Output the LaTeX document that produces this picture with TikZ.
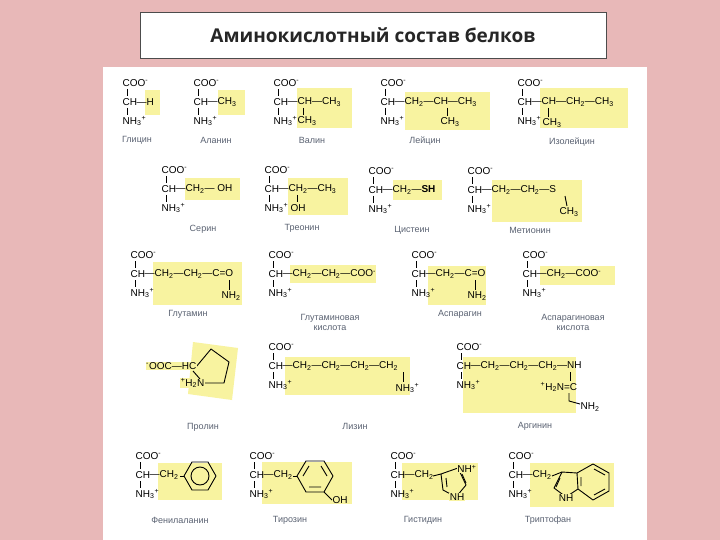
\documentclass[tikz,border=0pt]{standalone}
\usepackage{fontspec}
\setmainfont{Liberation Sans}
\newfontfamily\titlefont{Open Sans}
\definecolor{bgpink}{HTML}{E8B8B8}
\definecolor{hl}{HTML}{F8F3A0}
\definecolor{lbl}{HTML}{5A6272}
\newcommand\sub[1]{\textsubscript{#1}}
\newcommand\sups[1]{\textsuperscript{#1}}
\newcommand\bbone[2]{%
 \node[chem,anchor=west] at (#1,#2-19) {COO\sups{-}};
 \node[chem,anchor=west] at (#1,#2) {CH};
 \node[chem,anchor=west] at (#1,#2+19) {NH\sub{3}\sups{+}};
 \draw[bond] (#1+5,#2-13) -- (#1+5,#2-6);
 \draw[bond] (#1+5,#2+6) -- (#1+5,#2+13);}
\tikzset{
 chem/.style={inner sep=0.5pt,font=\fontsize{10}{11}\selectfont},
 bond/.style={line width=0.9pt,line join=round},
 hlbox/.style={fill=hl,draw=none},
 aname/.style={text=lbl,font=\fontsize{9}{10}\selectfont,align=center,inner sep=0pt}
}
\begin{document}
\begin{tikzpicture}[x=1pt,y=-1pt]
\useasboundingbox (0,0) rectangle (720,540);
\fill[bgpink] (0,0) rectangle (720,540);
\fill[white] (103,67) rectangle (647,540);
\node[draw=black!70,line width=0.8pt,fill=white,minimum width=466pt,minimum height=46pt,font=\titlefont\bfseries\fontsize{19}{22}\selectfont,text=black!85] (title) at (373,35) {Аминокислотный состав белков};
% ---------- yellow boxes ----------
\fill[hlbox] (145,90) rectangle (160,115);
\fill[hlbox] (218,90) rectangle (245,115);
\fill[hlbox] (297,88) rectangle (352,128);
\fill[hlbox] (405,92) rectangle (490,130);
\fill[hlbox] (540,88) rectangle (628,128);
\fill[hlbox] (185,178) rectangle (240,200);
\fill[hlbox] (288,178) rectangle (348,215);
\fill[hlbox] (393,180) rectangle (442,200);
\fill[hlbox] (492,180) rectangle (582,222);
\fill[hlbox] (153,262) rectangle (242,305);
\fill[hlbox] (290,265) rectangle (376,283);
\fill[hlbox] (428,266) rectangle (486,305);
\fill[hlbox] (540,266) rectangle (615,285);
\fill[hlbox] (193,342) -- (238,348) -- (232,400) -- (188,394) -- cycle;
\fill[hlbox] (285,357) rectangle (410,395);
\fill[hlbox] (463,357) rectangle (576,413);
\fill[hlbox] (158,463) rectangle (222,500);
\fill[hlbox] (262,462) rectangle (352,504);
\fill[hlbox] (402,463) rectangle (478,500);
\fill[hlbox] (530,463) rectangle (614,507);
% ---------- row 1 ----------
\bbone{122}{102}
\node[chem,anchor=west] (gly) at (136,102) {—H};
\node[aname] (lgly) at (137,140) {Глицин};
\bbone{193}{102}
\node[chem,anchor=west] (ala) at (207,102) {—CH\sub{3}};
\node[aname] (lala) at (216,140) {Аланин};
\bbone{273}{102}
\node[chem,anchor=west] (val) at (287,102) {—CH—CH\sub{3}};
\node[chem,anchor=west] (valb) at (297,121) {CH\sub{3}};
\draw[bond] (303,108) -- (303,115);
\node[aname] (lval) at (312,140) {Валин};
\bbone{380}{102}
\node[chem,anchor=west] (leu) at (394,102) {—CH\sub{2}—CH—CH\sub{3}};
\node[chem,anchor=west] (leub) at (440,122) {CH\sub{3}};
\draw[bond] (447,108) -- (447,116);
\node[aname] (lleu) at (425,141) {Лейцин};
\bbone{517}{102}
\node[chem,anchor=west] (ile) at (531,102) {—CH—CH\sub{2}—CH\sub{3}};
\node[chem,anchor=west] (ileb) at (542,123) {CH\sub{3}};
\draw[bond] (548,108) -- (548,117);
\node[aname] (lile) at (572,142) {Изолейцин};
% ---------- row 2 ----------
\bbone{161}{189}
\node[chem,anchor=west] (ser) at (175,189) {—CH\sub{2}— OH};
\node[aname] (lser) at (203,229) {Серин};
\bbone{264}{189}
\node[chem,anchor=west] (thr) at (278,189) {—CH\sub{2}—CH\sub{3}};
\node[chem,anchor=west] (thrb) at (290,208) {OH};
\draw[bond] (297,195) -- (297,202);
\node[aname] (lthr) at (302,228) {Треонин};
\bbone{368}{190}
\node[chem,anchor=west] (cys) at (382,190) {—CH\sub{2}—\textbf{SH}};
\node[aname] (lcys) at (412,230) {Цистеин};
\bbone{467}{190}
\node[chem,anchor=west] (met) at (481,190) {—CH\sub{2}—CH\sub{2}—S};
\node[chem,anchor=west] (metb) at (559,212) {CH\sub{3}};
\draw[bond] (565,196) -- (567,206);
\node[aname] (lmet) at (530,230) {Метионин};
% ---------- row 3 ----------
\bbone{130}{274}
\node[chem,anchor=west] (gln) at (144,274) {—CH\sub{2}—CH\sub{2}—C=O};
\node[chem,anchor=west] (glnb) at (221,296) {NH\sub{2}};
\draw[bond] (229,280) -- (229,290);
\node[aname] (lgln) at (188,314) {Глутамин};
\bbone{268}{274}
\node[chem,anchor=west] (glu) at (282,274) {—CH\sub{2}—CH\sub{2}—COO\sups{-}};
\node[aname] (lglu) at (330,322) {Глутаминовая\\кислота};
\bbone{411}{274}
\node[chem,anchor=west] (asn) at (425,274) {—CH\sub{2}—C=O};
\node[chem,anchor=west] (asnb) at (467,296) {NH\sub{2}};
\draw[bond] (475,280) -- (475,290);
\node[aname] (lasn) at (460,314) {Аспарагин};
\bbone{522}{274}
\node[chem,anchor=west] (asp) at (536,274) {—CH\sub{2}—COO\sups{-}};
\node[aname] (lasp) at (573,322) {Аспарагиновая\\кислота};
% ---------- row 4 ----------
\draw[bond] (196,367) -- (211,349) -- (229,362) -- (224,383) -- (203,383);
\node[chem,anchor=east,fill=hl] (pro) at (197,366) {\sups{-}OOC—HC};
\node[chem,anchor=east,fill=hl] (pron) at (205,383) {\sups{+}H\sub{2}N};
\draw[bond] (193,371) -- (200,379);
\node[aname] (lpro) at (203,427) {Пролин};
\bbone{268}{366}
\node[chem,anchor=west] (lys) at (282,366) {—CH\sub{2}—CH\sub{2}—CH\sub{2}—CH\sub{2}};
\node[chem,anchor=west] (lysb) at (395,388) {NH\sub{3}\sups{+}};
\draw[bond] (403,372) -- (403,382);
\node[aname] (llys) at (355,426) {Лизин};
\bbone{456}{366}
\node[chem,anchor=west] (arg) at (470,366) {—CH\sub{2}—CH\sub{2}—CH\sub{2}—NH};
\node[chem,anchor=west] (argb) at (540,387) {\sups{+}H\sub{2}N=C};
\node[chem,anchor=west] (argc) at (580,407) {NH\sub{2}};
\draw[bond] (570,372) -- (570,381);
\draw[bond] (569,393) -- (569,401) -- (580,404);
\node[aname] (larg) at (535,426) {Аргинин};
% ---------- row 5 ----------
\bbone{135}{475}
\node[chem,anchor=west] (phe) at (149,475) {—CH\sub{2}};
\draw[bond] (180,476) -- (184,476);
\draw[bond] (184,476) -- (192,462) -- (208,462) -- (216,476) -- (208,490) -- (192,490) -- cycle;
\draw[bond] (200,476) circle[radius=9];
\node[aname] (lphe) at (180,520) {Фенилаланин};
\bbone{249}{475}
\node[chem,anchor=west] (tyr) at (263,475) {—CH\sub{2}};
\draw[bond] (293,476) -- (297,476);
\draw[bond] (297,476) -- (306,461) -- (324,461) -- (333,476) -- (324,492) -- (306,492) -- cycle;
\draw[bond] (303,476) -- (309,466) (321,466) -- (327,476) (321,487) -- (309,487);
\draw[bond] (324,492) -- (332,500);
\node[chem,anchor=west] (tyroh) at (332,500) {OH};
\node[aname] (ltyr) at (290,520) {Тирозин};
\bbone{390}{475}
\node[chem,anchor=west] (his) at (404,475) {—CH\sub{2}};
\draw[bond] (433,476) -- (441,474);
\draw[bond] (441,474) -- (458,468) -- (466,485) -- (456,497) -- (443,490) -- cycle;
\draw[bond] (446,478) -- (447,487);
\draw[bond] (462,474) -- (466,483);
\node[chem,fill=hl] (hisa) at (467,469) {NH\sups{+}};
\node[chem,fill=hl] (hisb) at (457,497) {NH};
\node[aname] (lhis) at (423,520) {Гистидин};
\bbone{508}{475}
\node[chem,anchor=west] (trp) at (522,475) {—CH\sub{2}};
\begin{scope}[xshift=6pt]
\draw[bond] (546,476) -- (556,472);
\draw[bond] (556,472) -- (548,488) -- (560,497) -- (572,489) -- (571,473) -- cycle;
\draw[bond] (554,478) -- (550,487);
\draw[bond] (571,473) -- (587,464) -- (603,473) -- (603,491) -- (587,500) -- (572,489);
\draw[bond] (588,469) -- (599,475) (599,489) -- (588,495) (575,477) -- (575,486);
\node[chem,fill=hl] (trpn) at (560,498) {NH};
\end{scope}
\node[aname] (ltrp) at (548,520) {Триптофан};
\end{tikzpicture}
\end{document}
